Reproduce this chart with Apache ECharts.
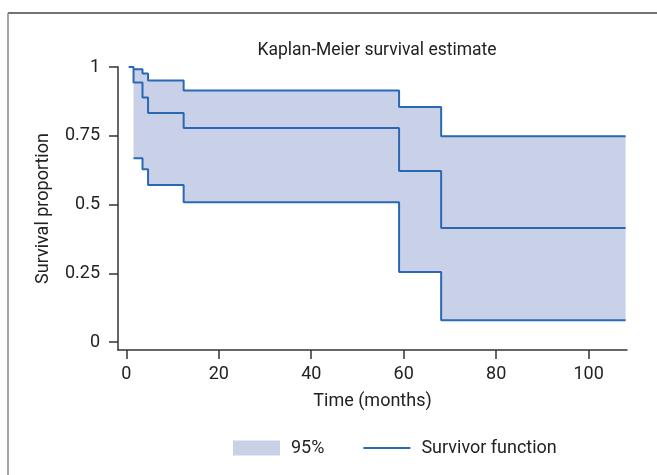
<!DOCTYPE html>
<html>
<head>
<meta charset="utf-8">
<script src="https://cdn.jsdelivr.net/npm/echarts@6/dist/echarts.min.js"></script>
<style>
html,body{margin:0;padding:0;background:#fff;}
#c{width:657px;height:475px;}
</style>
</head>
<body>
<div id="c"></div>
<script>
// Survivor function (step times in months)
const survTimes = [0.5, 1.56, 3.5, 4.7, 12.4, 59.0, 68.1, 108.0];
const survValues = [1, 0.944, 0.889, 0.833, 0.778, 0.622, 0.415, 0.415];
// 95% confidence band
const ciTimes = [1.56, 3.5, 4.7, 12.4, 59.0, 68.1, 108.0];
const ciUpper = [0.992, 0.976, 0.951, 0.915, 0.855, 0.748, 0.748];
const ciLower = [0.668, 0.628, 0.571, 0.508, 0.255, 0.079, 0.079];
// Tick labels
const xTicks = [0, 20, 40, 60, 80, 100];
const yTicks = [0, 0.25, 0.5, 0.75, 1];

const FONT = 'Roboto, sans-serif';
const LINE = '#2a68b4';
const FILL = '#c9d1e9';
const AX = '#333';
const TXT = '#222';

const pair = (ts, vs) => ts.map((t, i) => [t, vs[i]]);

const chart = echarts.init(document.getElementById('c'), null, {renderer: 'canvas'});
chart.setOption({
  animation: false,
  backgroundColor: '#fff',
  textStyle: {fontFamily: FONT},
  title: {
    text: 'Kaplan-Meier survival estimate',
    left: 372, top: 37, textAlign: 'center',
    textStyle: {fontFamily: FONT, fontSize: 17.5, fontWeight: 'normal', color: TXT}
  },
  graphic: [
    {type: 'line', shape: {x1: 8, y1: 13, x2: 657, y2: 13}, style: {stroke: '#444', lineWidth: 1.5}},
    {type: 'line', shape: {x1: 8, y1: 13, x2: 8, y2: 475}, style: {stroke: '#888', lineWidth: 1.5}}
  ],
  legend: {
    left: 228, top: 434,
    itemWidth: 47, itemHeight: 15, itemGap: 38,
    textStyle: {fontFamily: FONT, fontSize: 18, color: TXT, padding: [0, 0, 0, 6]},
    data: [
      {name: '95%', icon: 'rect', itemStyle: {color: FILL}},
      {name: 'Survivor function', itemStyle: {opacity: 0}, lineStyle: {color: LINE, width: 2}}
    ]
  },
  grid: {left: 118, right: 30, top: 67, bottom: 125, containLabel: false},
  xAxis: {
    type: 'value', min: -1.8, max: 108.3,
    name: 'Time (months)', nameLocation: 'middle', nameGap: 42,
    nameTextStyle: {fontFamily: FONT, fontSize: 18, color: TXT},
    axisLine: {show: true, onZero: false, lineStyle: {color: AX, width: 1.5}},
    axisTick: {show: true, customValues: xTicks, length: 9, lineStyle: {color: AX, width: 1.5}},
    axisLabel: {customValues: xTicks, margin: 15, fontFamily: FONT, fontSize: 18, color: TXT},
    splitLine: {show: false}
  },
  yAxis: {
    type: 'value', min: -0.029, max: 1.0,
    name: 'Survival proportion', nameLocation: 'middle', nameGap: 66,
    nameTextStyle: {fontFamily: FONT, fontSize: 18, color: TXT},
    axisLine: {show: true, onZero: false, lineStyle: {color: AX, width: 1.5}},
    axisTick: {show: true, customValues: yTicks, length: 9, lineStyle: {color: AX, width: 1.5}},
    axisLabel: {customValues: yTicks, margin: 18, fontFamily: FONT, fontSize: 18, color: TXT,
      formatter: v => String(v)},
    splitLine: {show: false}
  },
  series: [
    {
      name: '95%', type: 'custom', silent: true, z: 1,
      itemStyle: {color: FILL},
      data: pair(ciTimes, ciUpper),
      encode: {x: 0, y: 1},
      renderItem: (params, api) => {
        if (params.dataIndex !== 0) return null;
        const n = ciTimes.length;
        const pts = [];
        for (let i = 0; i < n; i++) {
          pts.push(api.coord([ciTimes[i], ciUpper[i]]));
          if (i < n - 1) pts.push(api.coord([ciTimes[i + 1], ciUpper[i]]));
        }
        for (let i = n - 1; i >= 0; i--) {
          if (i < n - 1) pts.push(api.coord([ciTimes[i + 1], ciLower[i]]));
          pts.push(api.coord([ciTimes[i], ciLower[i]]));
        }
        return {type: 'polygon', shape: {points: pts}, style: {fill: FILL, stroke: null}};
      }
    },
    {
      name: 'ciUpperLine', type: 'line', step: 'end', symbol: 'none',
      data: pair(ciTimes, ciUpper), lineStyle: {color: LINE, width: 2}, z: 3
    },
    {
      name: 'ciLowerLine', type: 'line', step: 'end', symbol: 'none',
      data: pair(ciTimes, ciLower), lineStyle: {color: LINE, width: 2}, z: 3
    },
    {
      name: 'Survivor function', type: 'line', step: 'end', symbol: 'none',
      data: pair(survTimes, survValues), itemStyle: {color: LINE},
      lineStyle: {color: LINE, width: 2}, z: 4
    }
  ]
});
</script>
</body>
</html>
